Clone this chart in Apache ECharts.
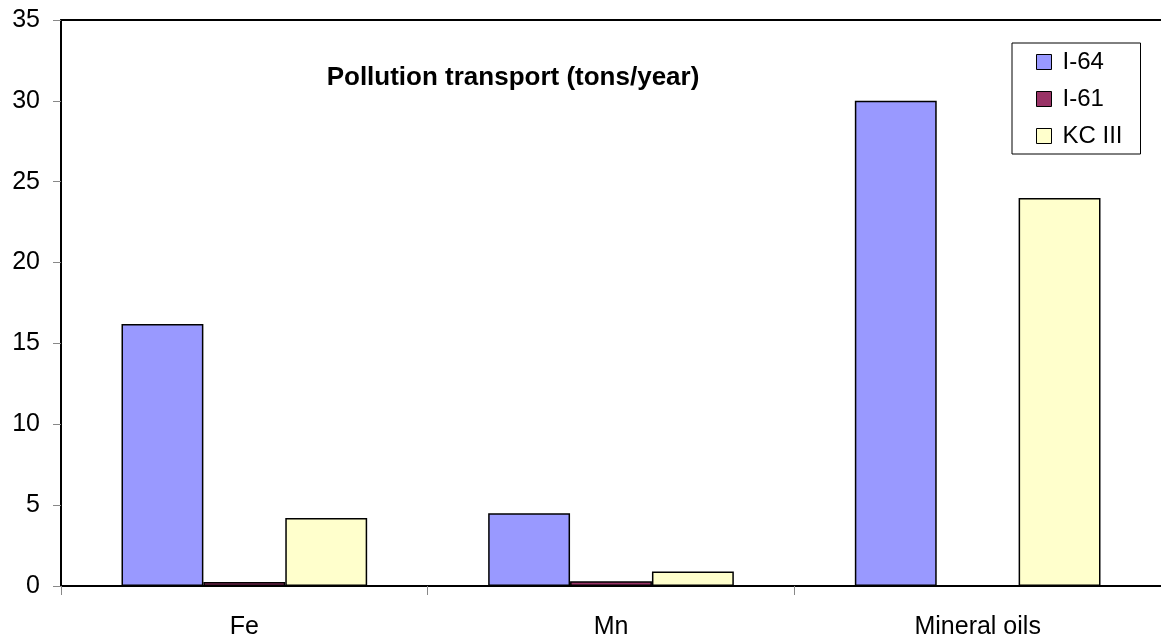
<!DOCTYPE html>
<html>
<head>
<meta charset="utf-8">
<script src="https://cdn.jsdelivr.net/npm/echarts@6/dist/echarts.min.js"></script>
<style>html,body{margin:0;padding:0;background:#fff;}#c{width:1161px;height:644px;}</style>
</head>
<body>
<div id="c"></div>
<script>
const categories = ['Fe', 'Mn', 'Mineral oils'];
const seriesNames = ['I-64', 'I-61', 'KC III'];
const i64 = [16.2, 4.5, 30];
const i61 = [0.25, 0.3, 0];
const kc3 = [4.2, 0.9, 24];
const yTicks = [0, 5, 10, 15, 20, 25, 30, 35];

const colors = ['#9999FF', '#993366', '#FFFFCC'];
const values = [i64, i61, kc3];
const font = 'Liberation Sans, Arial, sans-serif';

const chart = echarts.init(document.getElementById('c'), null, {renderer: 'canvas'});
chart.setOption({
  animation: false,
  backgroundColor: '#fff',
  title: {
    text: 'Pollution transport (tons/year)',
    left: 508, top: 60, textAlign: 'center',
    textStyle: {fontFamily: font, fontSize: 26, fontWeight: 'bold', color: '#000'}
  },
  legend: {
    orient: 'vertical',
    left: 1012, top: 43,
    padding: [7, 18, 6, 24],
    itemGap: 13,
    itemWidth: 15, itemHeight: 15,
    backgroundColor: '#fff',
    borderColor: '#000', borderWidth: 1,
    textStyle: {fontFamily: font, fontSize: 24, color: '#000', padding: [0, 0, 0, 6]},
    icon: 'rect',
    itemStyle: {borderColor: '#000', borderWidth: 1},
    data: seriesNames
  },
  grid: {left: 61, top: 20, bottom: 58, width: 1106, containLabel: false},
  xAxis: [{
    type: 'category',
    data: categories,
    axisLine: {lineStyle: {color: '#000', width: 2}},
    axisTick: {show: true, length: 9, lineStyle: {color: '#888'}},
    axisLabel: {fontFamily: font, fontSize: 25, color: '#000', margin: 29}
  }, {
    type: 'category',
    data: categories,
    position: 'top',
    axisLine: {show: true, onZero: false, lineStyle: {color: '#000', width: 2}},
    axisTick: {show: false},
    axisLabel: {show: false}
  }],
  yAxis: {
    type: 'value',
    min: yTicks[0], max: yTicks[yTicks.length - 1], interval: 5,
    axisLine: {show: true, lineStyle: {color: '#000', width: 2}},
    axisTick: {show: true, length: 8, lineStyle: {color: '#888'}},
    splitLine: {show: false},
    axisLabel: {fontFamily: font, fontSize: 25, color: '#000', margin: 21}
  },
  series: seriesNames.map((n, i) => ({
    name: n,
    type: 'bar',
    data: values[i].map(v => v === 0 ? null : v),
    barGap: '0%',
    barCategoryGap: '33%',
    itemStyle: {color: colors[i], borderColor: '#000', borderWidth: 1.5}
  }))
});
</script>
</body>
</html>
